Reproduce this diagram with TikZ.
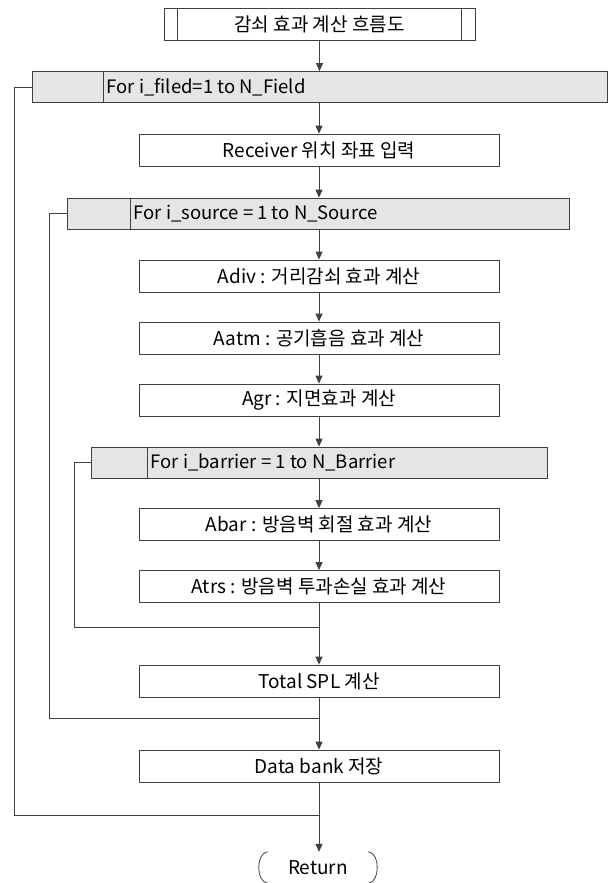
\documentclass[tikz,border=0pt]{standalone}
\usepackage{fontspec}
\setmainfont{Noto Sans CJK KR}
\usetikzlibrary{arrows.meta, positioning, calc}

\begin{document}
\begin{tikzpicture}[x=1pt, y=-1pt,
  proc/.style={draw=black!75, line width=0.8pt, minimum width=360pt, minimum height=32pt, inner sep=0pt, font=\fontsize{19}{22}\selectfont},
  loopbar/.style={draw=black!75, line width=0.8pt, fill=black!10, minimum height=31pt, inner sep=0pt},
  looptxt/.style={anchor=west, inner sep=0pt, font=\fontsize{18.5}{22}\selectfont},
  arr/.style={-{Triangle[length=8pt, width=7pt]}, draw=black!75, line width=0.8pt},
  ln/.style={draw=black!75, line width=0.8pt},
]
\useasboundingbox (0,0) rectangle (608,883);

% Title
\node[proc, minimum width=311pt] (title) at (319.5,24) {감쇠 효과 계산 흐름도};
\draw[ln] ([xshift=14pt]title.north west) -- ([xshift=14pt]title.south west);
\draw[ln] ([xshift=-14pt]title.north east) -- ([xshift=-14pt]title.south east);

% Loop bars
\node[loopbar, minimum width=575pt] (field) at (319.5,87) {};
\draw[ln] ([xshift=72pt]field.north west) -- ([xshift=72pt]field.south west);
\node[looptxt] (fieldtxt) at ([xshift=75pt]field.west) {For i\_filed=1 to N\_Field};

\node[loopbar, minimum width=502pt] (source) at (318,213.5) {};
\draw[ln] ([xshift=64pt]source.north west) -- ([xshift=64pt]source.south west);
\node[looptxt] (sourcetxt) at ([xshift=67pt]source.west) {For i\_source = 1 to N\_Source};

\node[loopbar, minimum width=456pt] (barrier) at (319,462.5) {};
\draw[ln] ([xshift=57pt]barrier.north west) -- ([xshift=57pt]barrier.south west);
\node[looptxt] (barriertxt) at ([xshift=60pt]barrier.west) {For i\_barrier = 1 to N\_Barrier};

% Steps
\node[proc] (receiver) at (319,150) {Receiver 위치 좌표 입력};
\node[proc] (adiv) at (319,276) {Adiv : 거리감쇠 효과 계산};
\node[proc] (aatm) at (319,338) {Aatm : 공기흡음 효과 계산};
\node[proc] (agr) at (319,400) {Agr : 지면효과 계산};
\node[proc] (abar) at (319,524.5) {Abar : 방음벽 회절 효과 계산};
\node[proc] (atrs) at (319,586.5) {Atrs : 방음벽 투과손실 효과 계산};
\node[proc] (total) at (319,681) {Total SPL 계산};
\node[proc] (bank) at (319,766) {Data bank 저장};
\node[inner sep=0pt, minimum width=120pt, minimum height=31pt, font=\fontsize{19}{22}\selectfont] (ret) at (318,867.5) {Return};
\draw[ln] ([xshift=10pt]ret.north west) to[out=190, in=90] ([xshift=1pt]ret.west) to[out=-90, in=170] ([xshift=10pt]ret.south west);
\draw[ln] ([xshift=-10pt]ret.north east) to[out=-10, in=90] ([xshift=-1pt]ret.east) to[out=-90, in=10] ([xshift=-10pt]ret.south east);

% Join points
\coordinate (jbar) at (319,627);
\coordinate (jsrc) at (319,718);
\coordinate (jfld) at (319,815);

% Flow
\draw[arr] (title) -- (title |- field.north);
\draw[arr] (field.south -| receiver) -- (receiver);
\draw[arr] (receiver) -- (receiver |- source.north);
\draw[arr] (source.south -| adiv) -- (adiv);
\draw[arr] (adiv) -- (aatm);
\draw[arr] (aatm) -- (agr);
\draw[arr] (agr) -- (agr |- barrier.north);
\draw[arr] (barrier.south -| abar) -- (abar);
\draw[arr] (abar) -- (atrs);
\draw[ln] (atrs) -- (jbar);
\draw[arr] (jbar) -- (total);
\draw[ln] (total) -- (jsrc);
\draw[arr] (jsrc) -- (bank);
\draw[ln] (bank) -- (jfld);
\draw[arr] (jfld) -- (jfld |- ret.north);

% Loop returns
\draw[ln] (barrier.west) -| (74,627) -- (jbar);
\draw[ln] (source.west) -| (49,718) -- (jsrc);
\draw[ln] (field.west) -| (14,815) -- (jfld);

\end{tikzpicture}
\end{document}
